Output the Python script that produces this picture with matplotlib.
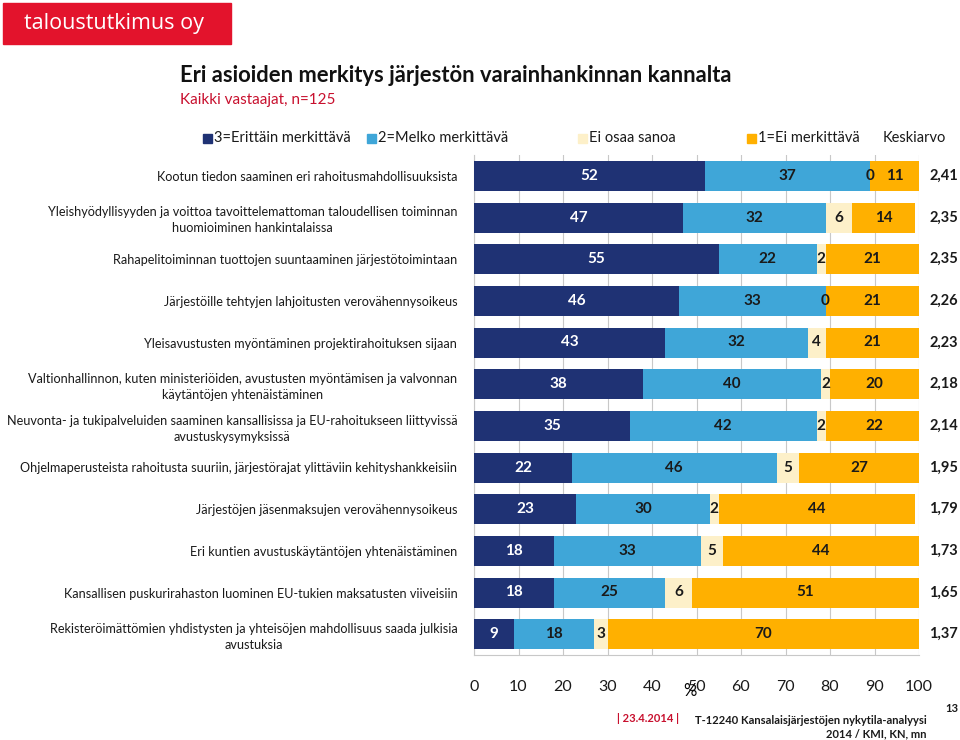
import numpy as np
import matplotlib.pyplot as plt
from matplotlib.patches import Rectangle

plt.rcParams['font.family'] = ['Lato', 'DejaVu Sans']

# data
categories = [
    'Kootun tiedon saaminen eri rahoitusmahdollisuuksista',
    'Yleishyödyllisyyden ja voittoa tavoittelemattoman taloudellisen toiminnan\nhuomioiminen hankintalaissa',
    'Rahapelitoiminnan tuottojen suuntaaminen järjestötoimintaan',
    'Järjestöille tehtyjen lahjoitusten verovähennysoikeus',
    'Yleisavustusten myöntäminen projektirahoituksen sijaan',
    'Valtionhallinnon, kuten ministeriöiden, avustusten myöntämisen ja valvonnan\nkäytäntöjen yhtenäistäminen',
    'Neuvonta- ja tukipalveluiden saaminen kansallisissa ja EU-rahoitukseen liittyvissä\navustuskysymyksissä',
    'Ohjelmaperusteista rahoitusta suuriin, järjestörajat ylittäviin kehityshankkeisiin',
    'Järjestöjen jäsenmaksujen verovähennysoikeus',
    'Eri kuntien avustuskäytäntöjen yhtenäistäminen',
    'Kansallisen puskurirahaston luominen EU-tukien maksatusten viiveisiin',
    'Rekisteröimättömien yhdistysten ja yhteisöjen mahdollisuus saada julkisia\navustuksia',
]
erittain = [52, 47, 55, 46, 43, 38, 35, 22, 23, 18, 18, 9]
melko = [37, 32, 22, 33, 32, 40, 42, 46, 30, 33, 25, 18]
ei_osaa = [0, 6, 2, 0, 4, 2, 2, 5, 2, 5, 6, 3]
ei_merk = [11, 14, 21, 21, 21, 20, 22, 27, 44, 44, 51, 70]
keskiarvo = ['2,41', '2,35', '2,35', '2,26', '2,23', '2,18', '2,14',
             '1,95', '1,79', '1,73', '1,65', '1,37']

series_names = ['3=Erittäin merkittävä', '2=Melko merkittävä', 'Ei osaa sanoa', '1=Ei merkittävä']
colors = ['#1f3274', '#3fa6d8', '#fdf0c9', '#ffb000']
text_colors = ['white', '#1a1a1a', '#1a1a1a', '#1a1a1a']

fig = plt.figure(figsize=(9.6, 7.4), dpi=100)

# logo box
fig.patches.append(Rectangle((3 / 960, 1 - 44 / 740), 228 / 960, 41 / 740,
                             transform=fig.transFigure, color='#e3132c'))
fig.text(24 / 960, 1 - 24 / 740, 'taloustutkimus oy', color='white', fontsize=15.5,
         va='center', ha='left', family=['Open Sans', 'DejaVu Sans'])

fig.text(180 / 960, 1 - 76 / 740, 'Eri asioiden merkitys järjestön varainhankinnan kannalta',
         fontsize=15.8, fontweight='bold', va='center', color='#111111')
fig.text(180 / 960, 1 - 100 / 740, 'Kaikki vastaajat, n=125', fontsize=11,
         va='center', color='#c8102e')

ax = fig.add_axes([474 / 960, 1 - 655 / 740, 445 / 960, 500 / 740])
y = np.arange(len(categories))
left = np.zeros(len(categories))
for vals, col, tcol in zip([erittain, melko, ei_osaa, ei_merk], colors, text_colors):
    vals = np.array(vals, dtype=float)
    ax.barh(y, vals, left=left, height=0.72, color=col, zorder=3)
    for yi, l, v in zip(y, left, vals):
        ax.text(l + v / 2, yi, f'{int(v)}', ha='center', va='center', color=tcol,
                fontsize=11, fontweight='bold', zorder=4)
    left += vals

for yi, k in zip(y, keskiarvo):
    ax.text(102.3, yi, k, ha='left', va='center', fontsize=10.5, fontweight='bold',
            color='#1a1a1a', clip_on=False)

ax.set_xlim(0, 100)
ax.set_ylim(len(categories) - 0.5, -0.5)
ax.set_xticks(range(0, 101, 10))
ax.tick_params(axis='x', length=0, labelsize=11.5, pad=18, colors='#1a1a1a')
ax.set_yticks(y)
ax.set_yticklabels(categories, fontsize=9.1, ma='center', color='#1a1a1a',
                   linespacing=1.4)
ax.tick_params(axis='y', length=0, pad=12)
ax.grid(axis='x', color='#c8c8c8', lw=0.8, zorder=0)
for s in ['top', 'right']:
    ax.spines[s].set_visible(False)
for s in ['left', 'bottom']:
    ax.spines[s].set_color('#c8c8c8')
ax.text(48.5, -0.055, '%', transform=ax.get_xaxis_transform(), fontsize=12,
        ha='center', va='top', clip_on=False)

# legend row
leg_x = [203, 367, 578, 747]
for lx, name, col in zip(leg_x, series_names, colors):
    fig.patches.append(Rectangle((lx / 960, 1 - 143 / 740), 9 / 960, 9 / 740,
                                 transform=fig.transFigure, color=col))
    fig.text((lx + 11) / 960, 1 - 138 / 740, name, fontsize=10.5, va='center', color='#1a1a1a')
fig.text(883 / 960, 1 - 138 / 740, 'Keskiarvo', fontsize=10.5, va='center', color='#1a1a1a')

# footer
fig.text(648 / 960, 1 - 718 / 740, '| 23.4.2014 |', fontsize=8, fontweight='bold',
         color='#c8102e', ha='center', va='center')
fig.text(927 / 960, 1 - 720 / 740, 'T-12240 Kansalaisjärjestöjen nykytila-analyysi',
         fontsize=8, fontweight='bold', ha='right', va='center', color='#1a1a1a')
fig.text(927 / 960, 1 - 734 / 740, '2014 / KMI, KN, mn',
         fontsize=8, fontweight='bold', ha='right', va='center', color='#1a1a1a')
fig.text(952 / 960, 1 - 708 / 740, '13', fontsize=8, fontweight='bold',
         ha='center', va='center', color='#1a1a1a')

fig.savefig('out.png', dpi=100)
